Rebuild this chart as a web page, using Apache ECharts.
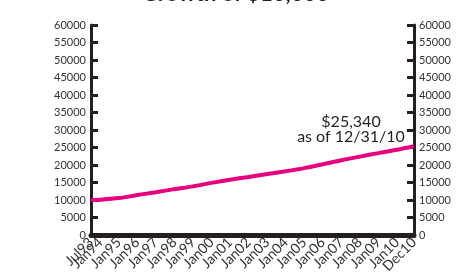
<!DOCTYPE html>
<html><head><meta charset="utf-8">
<script src="https://cdn.jsdelivr.net/npm/echarts@6/dist/echarts.min.js"></script>
<style>html,body{margin:0;padding:0;background:#fff}#c{width:474px;height:278px}</style>
</head><body><div id="c"></div>
<script>
const titleText = 'Growth of $10,000';
const tickLabels = ['Jul93','Jan94','Jan95','Jan96','Jan97','Jan98','Jan99','Jan00','Jan01','Jan02','Jan03','Jan04','Jan05','Jan06','Jan07','Jan08','Jan09','Jan10','Dec10'];
const values = [10000,10100,10550,11400,12240,13100,13900,14900,15800,16600,17400,18200,19100,20200,21350,22400,23400,24350,25340];
const yTicks = [0,5000,10000,15000,20000,25000,30000,35000,40000,45000,50000,55000,60000];
const annotation = ['$25,340','as of 12/31/10'];

// monthly positions Jul93..Dec10 (months since Jul93)
const mon = ['Jan','Feb','Mar','Apr','May','Jun','Jul','Aug','Sep','Oct','Nov','Dec'];
function monthIndex(lbl) {
  const m = mon.indexOf(lbl.slice(0,3));
  let y = +lbl.slice(3); y += y < 50 ? 2000 : 1900;
  return (y - 1993) * 12 + m - 6;
}
const xPos = tickLabels.map(monthIndex);
const data = xPos.map((x, i) => [x, values[i]]);
const labelAt = {};
xPos.forEach((x, i) => labelAt[x] = tickLabels[i]);
const evenPos = xPos.filter((x, i) => i % 2 === 0);
const oddPos = xPos.filter((x, i) => i % 2 === 1);

const axisCol = '#231f20';
const yAxisBase = {
  type: 'value', min: yTicks[0], max: yTicks[yTicks.length-1], interval: yTicks[1]-yTicks[0],
  axisLine: {show: true, onZero: false, lineStyle: {color: axisCol, width: 3}},
  axisTick: {show: true, inside: true, length: 7, lineStyle: {color: axisCol, width: 3}},
  axisLabel: {color: '#333', fontFamily: 'Lato', fontSize: 11, margin: 5, formatter: v => String(v)},
  splitLine: {show: false}
};
function xAxisFor(pos, showLine) {
  return {
    type: 'value', position: 'bottom', min: xPos[0], max: xPos[xPos.length-1],
    axisLine: {show: showLine, onZero: false, lineStyle: {color: axisCol, width: 5}},
    axisTick: {show: false},
    splitLine: {show: false},
    axisLabel: {rotate: 45, customValues: pos, formatter: v => labelAt[v] || '',
      color: '#333', fontFamily: 'Lato', fontSize: 14, margin: 5, hideOverlap: false,
      showMinLabel: true, showMaxLabel: true}
  };
}
const chart = echarts.init(document.getElementById('c'), null, {renderer: 'canvas'});
chart.setOption({
  animation: false,
  title: {text: titleText, left: 142, top: -17.5, padding: 0,
    textStyle: {fontFamily: 'Lato', fontWeight: 'bold', fontSize: 22, color: axisCol}},
  grid: {left: 91, right: 60, top: 25, bottom: 43},
  xAxis: [xAxisFor(evenPos, true), xAxisFor(oddPos, false)],
  yAxis: [
    Object.assign({}, yAxisBase, {position: 'left'}),
    Object.assign({}, yAxisBase, {position: 'right'})
  ],
  series: [{
    type: 'line', data: data, symbol: 'none', smooth: 0.3,
    lineStyle: {color: '#e6007e', width: 4},
    markPoint: {
      symbol: 'circle', symbolSize: 0,
      data: [{coord: data[data.length-1]}],
      label: {show: true, formatter: annotation.join('\n'), position: 'inside',
        align: 'center', verticalAlign: 'bottom', offset: [-63, -2],
        fontFamily: 'Lato', fontSize: 16, lineHeight: 15, color: '#231f20'}
    }
  }]
});
</script></body></html>
